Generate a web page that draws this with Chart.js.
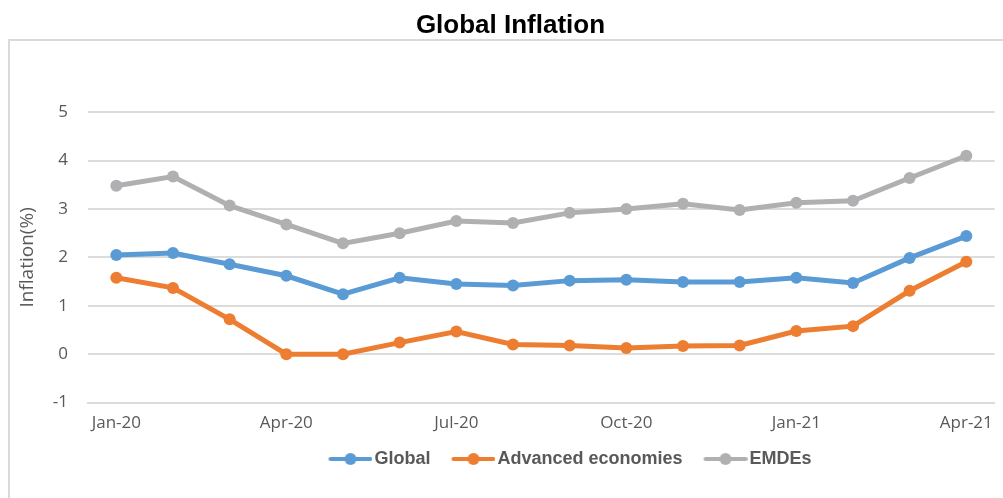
<!DOCTYPE html>
<html>
<head>
<meta charset="utf-8">
<script src="https://cdn.jsdelivr.net/npm/chart.js@4/dist/chart.umd.min.js"></script>
<style>
  html, body { margin: 0; padding: 0; background: #fff; }
</style>
</head>
<body>
<canvas id="chart" width="1003" height="498"></canvas>
<script>
// data
const months = ['Jan-20', 'Feb-20', 'Mar-20', 'Apr-20', 'May-20', 'Jun-20', 'Jul-20', 'Aug-20',
  'Sep-20', 'Oct-20', 'Nov-20', 'Dec-20', 'Jan-21', 'Feb-21', 'Mar-21', 'Apr-21'];
const shownMonths = ['Jan-20', 'Apr-20', 'Jul-20', 'Oct-20', 'Jan-21', 'Apr-21'];
const globalInfl = [2.05, 2.09, 1.86, 1.62, 1.24, 1.58, 1.45, 1.42, 1.52, 1.54, 1.49, 1.49, 1.58, 1.47, 1.99, 2.44];
const advancedInfl = [1.58, 1.37, 0.72, 0.00, 0.00, 0.24, 0.47, 0.20, 0.18, 0.13, 0.17, 0.18, 0.48, 0.58, 1.31, 1.91];
const emdeInfl = [3.48, 3.67, 3.07, 2.68, 2.29, 2.50, 2.75, 2.71, 2.92, 3.00, 3.11, 2.98, 3.13, 3.17, 3.64, 4.10];

const BLUE = '#5B9BD5';
const ORANGE = '#ED7D31';
const GREY = '#B0B0B3';
const TEXT = '#595959';
const GRID = '#DCDCDC';

// little "line with a dot" picture for the legend, like Excel
function legendMark(color) {
  const c = document.createElement('canvas');
  c.width = 56;
  c.height = 14;
  const g = c.getContext('2d');
  g.strokeStyle = color;
  g.lineWidth = 4;
  g.lineCap = 'round';
  g.beginPath();
  g.moveTo(14, 7);
  g.lineTo(54, 7);
  g.stroke();
  g.fillStyle = color;
  g.beginPath();
  g.arc(34, 7, 6, 0, Math.PI * 2);
  g.fill();
  return c;
}

// outer frame (top and left edge) of the Excel chart box
const framePlugin = {
  id: 'frame',
  beforeDraw(chart) {
    const c = chart.ctx;
    c.save();
    c.strokeStyle = '#DADADA';
    c.lineWidth = 2;
    c.beginPath();
    c.moveTo(9, 498);
    c.lineTo(9, 40);
    c.lineTo(1003, 40);
    c.stroke();
    c.restore();
  }
};

// Excel put the legend a bit right of centre and close under the axis
const nudgeBoxes = {
  id: 'nudgeBoxes',
  afterLayout(chart) {
    chart.legend.left += 64;
    chart.legend.right += 64;
    chart.legend.top -= 9;
    chart.legend.bottom -= 9;
    chart.titleBlock.left += 7;
    chart.titleBlock.right += 7;
  }
};

function series(label, data, color) {
  return {
    label: label,
    data: data,
    borderColor: color,
    backgroundColor: color,
    borderWidth: 5,
    pointRadius: 6,
    pointBorderWidth: 0,
    pointBackgroundColor: color,
    tension: 0
  };
}

const chart = new Chart(document.getElementById('chart'), {
  type: 'line',
  data: {
    labels: months,
    datasets: [
      series('Global', globalInfl, BLUE),
      series('Advanced economies', advancedInfl, ORANGE),
      series('EMDEs', emdeInfl, GREY)
    ]
  },
  options: {
    responsive: false,
    animation: false,
    devicePixelRatio: 1,
    layout: { padding: { left: 10, right: 6, top: 0, bottom: 11 } },
    plugins: {
      title: {
        display: true,
        text: 'Global Inflation',
        color: '#000',
        font: { family: 'Liberation Sans', size: 26, weight: 'bold' },
        padding: { top: 10, bottom: 71 }
      },
      legend: {
        position: 'bottom',
        labels: {
          color: TEXT,
          font: { family: 'Liberation Sans', size: 18, weight: 'bold' },
          usePointStyle: true,
          pointStyleWidth: 42,
          padding: 16,
          generateLabels(ch) {
            return ch.data.datasets.map((ds, i) => ({
              text: ds.label,
              fillStyle: ds.borderColor,
              strokeStyle: ds.borderColor,
              fontColor: TEXT,
              lineWidth: 0,
              pointStyle: legendMark(ds.borderColor),
              datasetIndex: i,
              hidden: false
            }));
          }
        }
      },
      tooltip: { enabled: false }
    },
    scales: {
      x: {
        offset: true,
        grid: { display: false, drawTicks: false },
        border: { display: true, color: GRID, width: 2 },
        ticks: {
          color: TEXT,
          font: { family: 'Open Sans', size: 17 },
          autoSkip: false,
          maxRotation: 0,
          padding: 10,
          callback(value, index) {
            const m = months[index];
            return shownMonths.includes(m) ? m : '';
          }
        }
      },
      y: {
        min: -1,
        max: 5,
        afterFit(scale) { scale.width = 78; },
        grid: { color: GRID, lineWidth: 2, drawTicks: false },
        border: { display: false },
        ticks: {
          stepSize: 1,
          color: TEXT,
          font: { family: 'Open Sans', size: 17 },
          padding: 20
        },
        title: {
          display: true,
          text: 'Inflation(%)',
          color: TEXT,
          font: { family: 'Open Sans', size: 19 },
          padding: { top: 6, bottom: 0 }
        }
      }
    }
  },
  plugins: [framePlugin, nudgeBoxes]
});
</script>
</body>
</html>
